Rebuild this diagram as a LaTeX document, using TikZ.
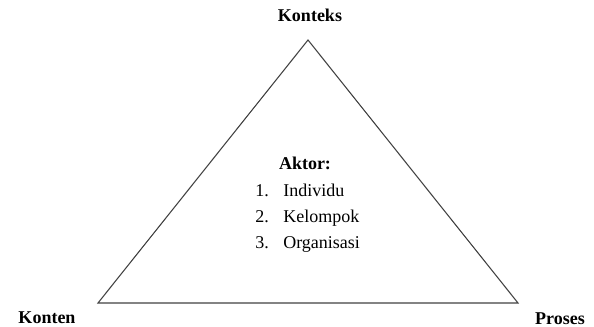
\documentclass[tikz,border=0pt]{standalone}
\usepackage{fontspec}
\setmainfont{Liberation Serif}
\usepackage{tikz}

\begin{document}
\begin{tikzpicture}[x=0.75pt,y=-0.75pt,
  sisi/.style={draw=black!75,line width=0.8pt},
  judul/.style={font=\fontsize{13.5}{16}\selectfont\bfseries},
  isi/.style={font=\fontsize{13.5}{16}\selectfont,anchor=base west,inner sep=0pt}]
\useasboundingbox (0,0) rectangle (594,327);
% sudut segitiga
\coordinate (atas) at (308,40);
\coordinate (kiri) at (98,303);
\coordinate (kanan) at (518,303);
\draw[sisi,line join=miter] (atas) -- (kiri) -- (kanan) -- cycle;
% label sudut
\node[judul] (konteks) at (310,15) {Konteks};
\node[judul] (konten) at (47,318) {Konten};
\node[judul] (proses) at (560,319) {Proses};
% aktor
\node[judul] (aktor) at (305,163) {Aktor:};
\node[isi] (n1) at (255,197) {1.};
\node[isi] (n2) at (255,223) {2.};
\node[isi] (n3) at (255,249) {3.};
\node[isi] (individu) at (283,197) {Individu};
\node[isi] (kelompok) at (283,223) {Kelompok};
\node[isi] (organisasi) at (283,249) {Organisasi};
\end{tikzpicture}
\end{document}
